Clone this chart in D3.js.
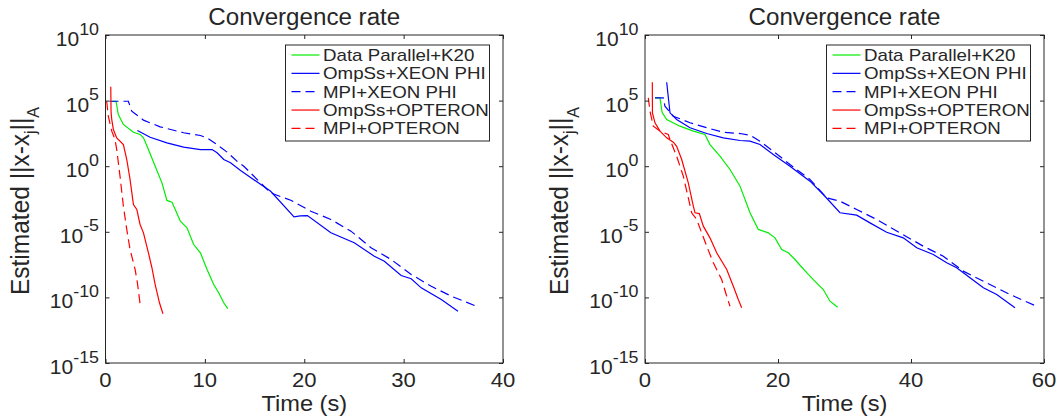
<!DOCTYPE html>
<html>
<head>
<meta charset="utf-8">
<script src="https://cdn.jsdelivr.net/npm/d3@7"></script>
<style>
  body { margin: 0; background: #fff; }
  text { font-family: "Liberation Sans", Arial, Helvetica, sans-serif; fill: #262626; }
</style>
</head>
<body>
<script>
// Series names, in legend order
const seriesNames = ["Data Parallel+K20", "OmpSs+XEON PHI", "MPI+XEON PHI", "OmpSs+OPTERON", "MPI+OPTERON"];

// Values: [time (s), log10 of estimated error]
// left panel
const leftK20 = [[0.63, 4.95], [1.06, 4.95], [1.29, 3.94], [1.8, 3.18], [2.81, 2.59], [3.48, 2.42], [3.82, 2.16], [4.32, 1.27], [5.0, 0], [5.68, -1.27], [6.18, -2.61], [6.69, -2.74], [7.02, -3.3], [7.53, -4.19], [8.2, -4.7], [8.87, -5.97], [9.55, -6.6], [10.22, -7.87], [10.89, -9.02], [11.39, -9.65], [11.9, -10.41], [12.3, -10.85]];
const leftOmpPhi = [[3.21, 2.72], [4.49, 2.21], [6.18, 1.78], [7.86, 1.45], [9.55, 1.27], [10.73, 1.27], [11.23, 1.02], [11.9, 0.51], [12.58, 0.26], [13.59, -0.33], [16.62, -1.91], [18.97, -3.86], [19.6, -3.78], [20.32, -3.76], [22.68, -5.08], [25.03, -5.84], [27.05, -6.86], [28.06, -7.24], [29.75, -8.33], [30.76, -8.58], [31.77, -9.27], [33.79, -10.16], [35.47, -11.05]];
const leftMpiPhi = [[0.4, 4.95], [2.3, 4.95], [2.64, 4.19], [3.82, 3.51], [5.5, 3.0], [7.86, 2.55], [9.55, 2.34], [10.22, 2.16], [11.06, 1.73], [12.24, 1.07], [13.41, 0.26], [13.92, 0], [16.62, -2.03], [17.96, -2.41], [18.64, -2.59], [20.66, -3.43], [22.68, -4.06], [24.7, -4.95], [26.72, -6.22], [28.74, -7.11], [30.76, -8.25], [32.78, -9.15], [34.8, -9.91], [37.32, -10.67]];
const leftOmpOpt = [[0.53, 6.05], [0.56, 4.1], [0.63, 3.56], [0.79, 2.8], [1.13, 2.16], [1.8, 1.65], [2.14, 0.51], [2.47, -1.01], [2.81, -2.92], [3.15, -3.3], [3.48, -4.44], [3.82, -5.08], [4.32, -6.6], [4.67, -7.74], [5.0, -9.02], [5.43, -10.41], [5.78, -11.25]];
const leftMpiOpt = [[0.12, 4.95], [0.28, 3.81], [0.63, 2.67], [0.96, 2.03], [1.13, 1.27], [1.46, -0.76], [1.8, -3.05], [2.14, -4.82], [2.47, -6.35], [2.98, -7.87], [3.21, -8.89], [3.48, -10.49]];

// right panel
const rightK20 = [[1.5, 5.21], [2.26, 5.21], [2.5, 4.32], [2.6, 4.07], [3.26, 3.56], [5.26, 3.05], [7.27, 2.67], [9.02, 2.42], [9.77, 1.65], [11.28, 0.76], [12.78, -0.25], [14.29, -1.52], [15.79, -3.55], [17.04, -4.82], [18.54, -5.08], [19.55, -5.46], [20.56, -6.35], [21.55, -6.6], [22.56, -7.11], [23.31, -7.55], [24.56, -8.25], [25.31, -8.64], [26.81, -9.4], [27.82, -10.29], [28.97, -10.75]];
const rightOmpPhi = [[3.26, 6.4], [3.76, 4.07], [4.76, 3.56], [6.77, 2.93], [9.28, 2.49], [11.77, 2.16], [14.29, 1.96], [15.79, 1.91], [17.29, 1.65], [19.29, 0.89], [21.8, 0], [24.81, -1.14], [26.81, -2.16], [29.32, -3.55], [31.83, -3.73], [33.83, -4.32], [36.34, -5.03], [38.84, -5.46], [40.86, -6.22], [43.35, -6.73], [45.37, -7.36], [46.87, -7.74], [48.87, -8.51], [50.88, -9.27], [52.89, -9.78], [55.64, -10.79]];
const rightMpiPhi = [[1.5, 5.21], [2.75, 5.21], [3.0, 4.57], [4.26, 3.81], [6.77, 3.31], [9.28, 2.93], [11.77, 2.59], [14.29, 2.49], [15.79, 2.36], [17.29, 1.91], [19.29, 1.14], [21.8, 0.13], [24.81, -1.01], [27.32, -2.41], [29.32, -2.67], [31.83, -3.3], [34.84, -4.06], [38.35, -5.08], [41.85, -6.1], [44.86, -6.86], [47.86, -8.0], [51.38, -8.89], [54.89, -9.78], [58.65, -10.62]];
const rightOmpOpt = [[1.1, 6.4], [1.12, 4.07], [1.5, 3.31], [2.26, 2.67], [3.26, 2.16], [4.26, 1.83], [4.76, 1.52], [5.52, 0.51], [6.51, -1.27], [7.27, -3.05], [7.52, -3.55], [8.17, -3.61], [8.77, -4.57], [9.77, -5.46], [10.78, -6.6], [12.29, -7.87], [13.28, -9.15], [14.03, -10.16], [14.54, -10.79]];
const rightMpiOpt = [[0.5, 5.21], [0.75, 4.19], [1.25, 3.05], [2.26, 2.67], [3.5, 2.42], [3.76, 2.03], [4.76, 0.76], [5.76, -0.76], [7.02, -3.55], [7.77, -4.06], [8.53, -5.08], [9.28, -6.1], [10.28, -7.36], [11.53, -8.64], [12.29, -9.91], [12.78, -10.67]];

// axis ticks
const xTicksLeft = [0, 10, 20, 30, 40];
const xTicksRight = [0, 20, 40, 60];
const yTickExps = [10, 5, 0, -5, -10, -15];

const colors = ["#00ee00", "#0000ff", "#0000ff", "#ff0000", "#ff0000"];
const dashed = [false, false, true, false, true];

const SX = 1.05; // text in the picture is slightly wide
const plotTop = 35, plotBottom = 363;

const panels = [
  { left: 105.5, right: 503, xmax: 40, xticks: xTicksLeft, series: [leftK20, leftOmpPhi, leftMpiPhi, leftOmpOpt, leftMpiOpt] },
  { left: 645, right: 1044, xmax: 60, xticks: xTicksRight, series: [rightK20, rightOmpPhi, rightMpiPhi, rightOmpOpt, rightMpiOpt] },
];

const svg = d3.select("body").append("svg").attr("width", 1061).attr("height", 419);

function place(sel, x, y, rot, sx = SX) {
  return sel.attr("transform", `translate(${x},${y}) scale(${sx},1)` + (rot ? ` rotate(${rot})` : ""));
}

panels.forEach((p) => {
  const x = d3.scaleLinear().domain([0, p.xmax]).range([p.left, p.right]);
  const y = d3.scaleLog().domain([1e-15, 1e10]).range([plotBottom, plotTop]);
  const g = svg.append("g");

  // lines
  const line = d3.line().x((d) => x(d[0])).y((d) => y(10 ** d[1]));
  p.series.forEach((s, k) => {
    g.append("path")
      .attr("d", line(s))
      .attr("fill", "none")
      .attr("stroke", colors[k])
      .attr("stroke-width", 1.2)
      .attr("stroke-dasharray", dashed[k] ? "9,5" : null);
  });

  // tick marks on all four sides, pointing inwards
  const yTickVals = yTickExps.map((e) => 10 ** e);
  const axes = g.append("g").attr("color", "#262626");
  axes.append("g").attr("transform", `translate(0,${plotBottom})`)
    .call(d3.axisBottom(x).tickValues(p.xticks).tickSizeInner(-4).tickSizeOuter(0).tickFormat(""));
  axes.append("g").attr("transform", `translate(0,${plotTop})`)
    .call(d3.axisTop(x).tickValues(p.xticks).tickSizeInner(-4).tickSizeOuter(0).tickFormat(""));
  axes.append("g").attr("transform", `translate(${p.left},0)`)
    .call(d3.axisLeft(y).tickValues(yTickVals).tickSizeInner(-4).tickSizeOuter(0).tickFormat(""));
  axes.append("g").attr("transform", `translate(${p.right},0)`)
    .call(d3.axisRight(y).tickValues(yTickVals).tickSizeInner(-4).tickSizeOuter(0).tickFormat(""));
  axes.selectAll(".domain").remove();

  g.append("rect")
    .attr("x", p.left).attr("y", plotTop)
    .attr("width", p.right - p.left).attr("height", plotBottom - plotTop)
    .attr("fill", "none").attr("stroke", "#262626").attr("stroke-width", 1);

  // x tick labels
  p.xticks.forEach((v) => {
    place(g.append("text"), x(v), 387)
      .attr("text-anchor", "middle").style("font-size", "21px").text(v);
  });

  // y tick labels 10^n
  yTickExps.forEach((e) => {
    const t = place(g.append("text"), p.left - 6.5, y(10 ** e) + 11).attr("text-anchor", "end");
    t.append("tspan").style("font-size", "20px").text("10");
    t.append("tspan").attr("dy", -11.5).style("font-size", "17px").text(e);
  });

  // title and axis labels
  const cx = (p.left + p.right) / 2;
  place(g.append("text"), cx, 24.5).attr("text-anchor", "middle").style("font-size", "23px").text("Convergence rate");
  place(g.append("text"), cx, 411).attr("text-anchor", "middle").style("font-size", "22.5px").text("Time (s)");

  const yl = place(g.append("text"), p.left - 77, (plotTop + plotBottom) / 2 + 2, -90)
    .attr("text-anchor", "middle").style("font-size", "24.5px");
  yl.append("tspan").text("Estimated ||x-x");
  yl.append("tspan").attr("dy", 7).style("font-size", "16px").text("j");
  yl.append("tspan").attr("dy", -7).text("||");
  yl.append("tspan").attr("dy", 10).style("font-size", "16px").text("A");

  // legend
  const lx = p.right - 217.5, ly = 45, lw = 204, lh = 96;
  const lg = g.append("g");
  lg.append("rect").attr("x", lx).attr("y", ly).attr("width", lw).attr("height", lh)
    .attr("fill", "#fff").attr("stroke", "#262626").attr("stroke-width", 1);
  seriesNames.forEach((name, k) => {
    const ry = ly + 10 + k * 18.35;
    lg.append("line")
      .attr("x1", lx + 6).attr("x2", lx + 34).attr("y1", ry).attr("y2", ry)
      .attr("stroke", colors[k]).attr("stroke-width", 1.2)
      .attr("stroke-dasharray", dashed[k] ? "9,5" : null);
    place(lg.append("text"), lx + 37.5, ry + 6, 0, 1.17).style("font-size", "16px").text(name);
  });
});
</script>
</body>
</html>
